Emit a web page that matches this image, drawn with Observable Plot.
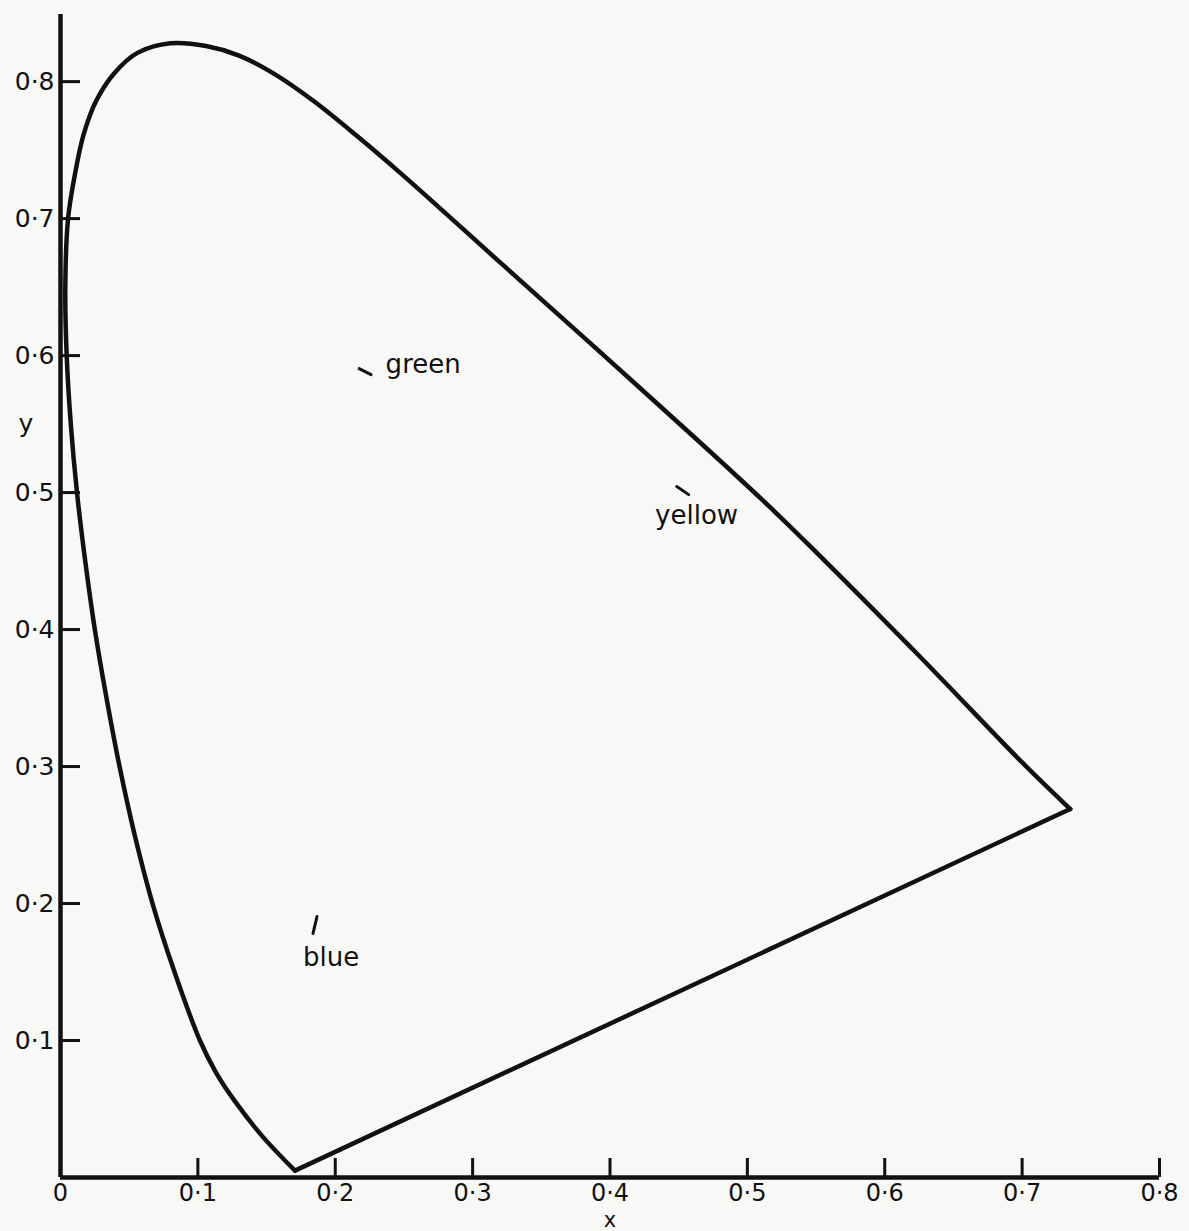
<!DOCTYPE html>
<html><head><meta charset="utf-8">
<script src="https://cdn.jsdelivr.net/npm/d3@7"></script>
<script src="https://cdn.jsdelivr.net/npm/@observablehq/plot@0.6"></script>
<style>html,body{margin:0;padding:0;background:#f8f8f7;}#chart svg{display:block;}</style>
</head><body><div id="chart"></div>
<script>
// Spectral locus, blue end -> peak -> red end
const locusX = [0.1707, 0.147, 0.126, 0.113, 0.1015, 0.083, 0.067, 0.054, 0.043, 0.0335, 0.025, 0.018, 0.012, 0.0075, 0.0045, 0.0035, 0.0055, 0.011, 0.017, 0.026, 0.039, 0.056, 0.080, 0.106, 0.130, 0.155, 0.184, 0.215, 0.250, 0.320, 0.420, 0.520, 0.620, 0.700, 0.735];
const locusY = [0.005, 0.030, 0.057, 0.077, 0.100, 0.150, 0.200, 0.250, 0.300, 0.350, 0.400, 0.450, 0.500, 0.550, 0.600, 0.650, 0.700, 0.735, 0.762, 0.786, 0.806, 0.821, 0.828, 0.826, 0.819, 0.806, 0.786, 0.761, 0.731, 0.668, 0.578, 0.486, 0.386, 0.303, 0.269];
// Straight closing line (red end -> blue end)
const closeX = [0.735, 0.1707];
const closeY = [0.269, 0.005];
// Axis ticks
const xTicks = [0, 0.1, 0.2, 0.3, 0.4, 0.5, 0.6, 0.7, 0.8];
const yTicks = [0.1, 0.2, 0.3, 0.4, 0.5, 0.6, 0.7, 0.8];
// Annotations
const labelNames = ["green", "yellow", "blue"];
const labelX = [0.264, 0.463, 0.197];
const labelY = [0.5876, 0.477, 0.1547];
const leaderX1 = [0.2174, 0.4486, 0.1867];
const leaderY1 = [0.5905, 0.5044, 0.1905];
const leaderX2 = [0.2261, 0.4573, 0.1838];
const leaderY2 = [0.5861, 0.4985, 0.1781];

const locus = locusX.map((x, i) => ({x, y: locusY[i]}));
const closing = closeX.map((x, i) => ({x, y: closeY[i]}));
const labels = labelNames.map((name, i) => ({name, x: labelX[i], y: labelY[i]}));
const leaders = labelNames.map((name, i) => ({x1: leaderX1[i], y1: leaderY1[i], x2: leaderX2[i], y2: leaderY2[i]}));
const fmt = d => d === 0 ? "0" : d.toFixed(1).replace(".", "\u00b7");
const ink = "#111";
const font = "DejaVu Sans, sans-serif";

const chart = Plot.plot({
  width: 1189,
  height: 1231,
  marginLeft: 60,
  marginRight: 30,
  marginTop: 14,
  marginBottom: 54,
  style: {background: "transparent", fontFamily: font, color: ink},
  x: {domain: [0, 0.8]},
  y: {domain: [0, 0.849]},
  marks: [
    // axis lines
    Plot.ruleX([0], {y1: 0, y2: 0.849, stroke: ink, strokeWidth: 4.5}),
    Plot.ruleY([0], {x1: 0, x2: 0.8, stroke: ink, strokeWidth: 4.5}),
    // inward ticks
    Plot.axisX(xTicks.filter(d => d > 0), {tickSize: -19, text: null, label: null, strokeWidth: 3, stroke: ink}),
    Plot.axisY(yTicks, {tickSize: -20, text: null, label: null, strokeWidth: 3, stroke: ink}),
    // tick labels
    Plot.axisX(xTicks, {tickSize: 0, tickPadding: 6, tickFormat: fmt, label: null, fontSize: 24, fill: ink}),
    Plot.axisY(yTicks, {tickSize: 0, tickPadding: 6, tickFormat: fmt, label: null, fontSize: 25, fill: ink}),
    // axis titles
    Plot.text(["x"], {frameAnchor: "bottom", dy: 49, lineAnchor: "bottom", fontSize: 21, fill: ink}),
    Plot.text(["y"], {frameAnchor: "left", y: 0.55, dx: -42, fontSize: 25, fill: ink}),
    // spectral locus and closing line
    Plot.line(locus, {x: "x", y: "y", curve: "catmull-rom", stroke: ink, strokeWidth: 4.5, strokeLinejoin: "round"}),
    Plot.line(closing, {x: "x", y: "y", stroke: ink, strokeWidth: 4.5, strokeLinejoin: "round", strokeLinecap: "round"}),
    // annotations
    Plot.link(leaders, {x1: "x1", y1: "y1", x2: "x2", y2: "y2", stroke: ink, strokeWidth: 3, strokeLinecap: "round"}),
    Plot.text(labels, {x: "x", y: "y", text: "name", lineAnchor: "bottom", fontSize: 26, fill: ink})
  ]
});
document.getElementById("chart").append(chart);
</script>
</body></html>
